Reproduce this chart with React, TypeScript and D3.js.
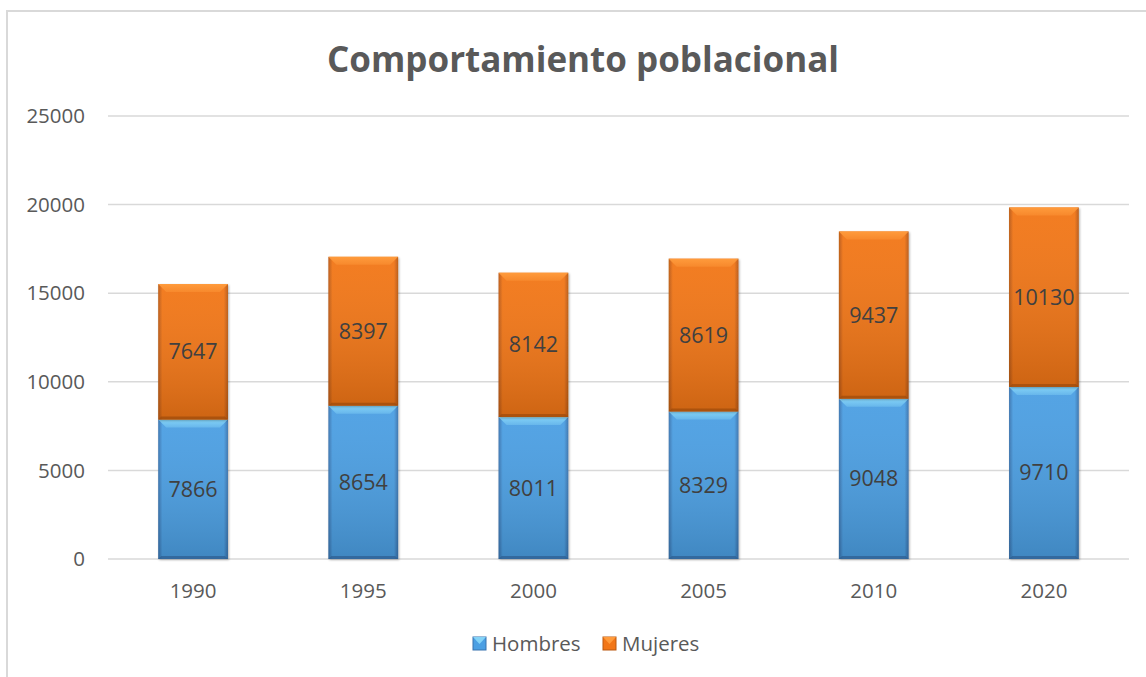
import { useEffect, useRef } from 'react';
import * as d3 from 'd3';

const years = ['1990', '1995', '2000', '2005', '2010', '2020'];
const hombres = [7866, 8654, 8011, 8329, 9048, 9710];
const mujeres = [7647, 8397, 8142, 8619, 9437, 10130];
const yTicks = [0, 5000, 10000, 15000, 20000, 25000];
const seriesNames = ['Hombres', 'Mujeres'];

const W = 1146;
const H = 677;
const FONT = '"Open Sans", "Noto Sans", sans-serif';

const palettes = [
  { light: '#84d3f7', mid: '#4b9fe3', dark: '#3872ae', bottom: '#2d5d8f' },
  { light: '#ff9b3c', mid: '#f27617', dark: '#b95810', bottom: '#9c4a0c' },
];

export default function App() {
  const svgRef = useRef<SVGSVGElement>(null);

  useEffect(() => {
    if (!svgRef.current) return;
    const svg = d3.select(svgRef.current);
    svg.selectAll('*').remove();

    const margin = { top: 116, right: 17, bottom: 118, left: 108 };
    const x = d3.scaleBand<string>()
      .domain(years)
      .range([margin.left, W - margin.right])
      .paddingInner(0.59)
      .paddingOuter(0.295);
    const y = d3.scaleLinear().domain([0, 25000]).range([H - margin.bottom, margin.top]);

    const defs = svg.append('defs');
    palettes.forEach((p, i) => {
      const g = defs.append('linearGradient').attr('id', `hg${i}`)
        .attr('x1', 0).attr('x2', 1).attr('y1', 0).attr('y2', 0);
      g.append('stop').attr('offset', '0%').attr('stop-color', p.dark);
      g.append('stop').attr('offset', '6%').attr('stop-color', p.mid);
      g.append('stop').attr('offset', '94%').attr('stop-color', p.mid);
      g.append('stop').attr('offset', '100%').attr('stop-color', p.dark);
      const v = defs.append('linearGradient').attr('id', `vg${i}`)
        .attr('x1', 0).attr('x2', 0).attr('y1', 0).attr('y2', 1);
      v.append('stop').attr('offset', '0%').attr('stop-color', '#ffffff').attr('stop-opacity', 0.05);
      v.append('stop').attr('offset', '100%').attr('stop-color', '#000000').attr('stop-opacity', 0.15);
      const t = defs.append('linearGradient').attr('id', `tg${i}`)
        .attr('x1', 0).attr('x2', 0).attr('y1', 0).attr('y2', 1);
      t.append('stop').attr('offset', '0%').attr('stop-color', p.light).attr('stop-opacity', 1);
      t.append('stop').attr('offset', '100%').attr('stop-color', p.light).attr('stop-opacity', 0.4);
    });
    const shadow = defs.append('filter').attr('id', 'shadow')
      .attr('x', '-10%').attr('y', '-10%').attr('width', '130%').attr('height', '130%');
    shadow.append('feDropShadow').attr('dx', 1).attr('dy', 1).attr('stdDeviation', 1.2)
      .attr('flood-color', '#000').attr('flood-opacity', 0.3);

    // outer frame
    svg.append('rect')
      .attr('x', 7).attr('y', 11).attr('width', W + 10).attr('height', H + 10)
      .attr('fill', '#fff').attr('stroke', '#d9d9d9').attr('stroke-width', 2);

    // title
    svg.append('text')
      .attr('x', 583).attr('y', 72)
      .attr('text-anchor', 'middle')
      .attr('font-family', FONT).attr('font-weight', 700).attr('font-size', 35)
      .attr('fill', '#595959')
      .text('Comportamiento poblacional');

    // grid + y labels
    yTicks.forEach(t => {
      svg.append('line')
        .attr('x1', margin.left).attr('x2', W - margin.right)
        .attr('y1', y(t)).attr('y2', y(t))
        .attr('stroke', '#d9d9d9').attr('stroke-width', 1.5);
      svg.append('text')
        .attr('x', 85).attr('y', y(t)).attr('dy', '0.35em')
        .attr('text-anchor', 'end')
        .attr('font-family', FONT).attr('font-size', 20.5)
        .attr('fill', '#595959')
        .text(t);
    });

    // x labels
    years.forEach(yr => {
      svg.append('text')
        .attr('x', x(yr)! + x.bandwidth() / 2).attr('y', 598)
        .attr('text-anchor', 'middle')
        .attr('font-family', FONT).attr('font-size', 20.5)
        .attr('fill', '#595959')
        .text(yr);
    });

    const drawSeg = (x0: number, y0: number, w: number, h: number, pi: number) => {
      const p = palettes[pi];
      const g = svg.append('g');
      g.append('rect').attr('x', x0).attr('y', y0).attr('width', w).attr('height', h)
        .attr('fill', `url(#hg${pi})`).attr('filter', 'url(#shadow)');
      g.append('rect').attr('x', x0).attr('y', y0).attr('width', w).attr('height', h)
        .attr('fill', `url(#vg${pi})`);
      const b = 8;
      g.append('polygon')
        .attr('points', [[x0, y0], [x0 + w, y0], [x0 + w - b, y0 + b], [x0 + b, y0 + b]].map(d => d.join(',')).join(' '))
        .attr('fill', `url(#tg${pi})`);
      g.append('polygon')
        .attr('points', [[x0, y0 + h], [x0 + w, y0 + h], [x0 + w - 3, y0 + h - 3], [x0 + 3, y0 + h - 3]].map(d => d.join(',')).join(' '))
        .attr('fill', p.bottom).attr('opacity', 0.7);
    };

    years.forEach((yr, i) => {
      const x0 = x(yr)!;
      const w = x.bandwidth();
      const h0 = hombres[i];
      const m0 = mujeres[i];
      drawSeg(x0, y(h0), w, y(0) - y(h0), 0);
      drawSeg(x0, y(h0 + m0), w, y(h0) - y(h0 + m0), 1);
      svg.append('text')
        .attr('x', x0 + w / 2).attr('y', (y(0) + y(h0)) / 2).attr('dy', '0.35em')
        .attr('text-anchor', 'middle').attr('font-family', FONT).attr('font-size', 21.5)
        .attr('fill', '#404040').text(h0);
      svg.append('text')
        .attr('x', x0 + w / 2).attr('y', (y(h0) + y(h0 + m0)) / 2).attr('dy', '0.35em')
        .attr('text-anchor', 'middle').attr('font-family', FONT).attr('font-size', 21.5)
        .attr('fill', '#404040').text(m0);
    });

    // legend
    const legendX = [473, 603];
    seriesNames.forEach((name, i) => {
      const p = palettes[i];
      const lx = legendX[i];
      svg.append('rect').attr('x', lx).attr('y', 637).attr('width', 13).attr('height', 13)
        .attr('fill', p.mid).attr('stroke', p.dark).attr('stroke-width', 1);
      svg.append('polygon')
        .attr('points', `${lx},637 ${lx + 13},637 ${lx + 6.5},644`)
        .attr('fill', p.light);
      svg.append('text')
        .attr('x', lx + 19).attr('y', 644).attr('dy', '0.35em')
        .attr('font-family', FONT).attr('font-size', 20.5)
        .attr('fill', '#595959').text(name);
    });
  }, []);

  return (
    <div style={{ position: 'absolute', left: 0, top: 0, width: W, height: H, overflow: 'hidden', background: '#fff' }}>
      <svg ref={svgRef} width={W} height={H} style={{ display: 'block' }} />
    </div>
  );
}
